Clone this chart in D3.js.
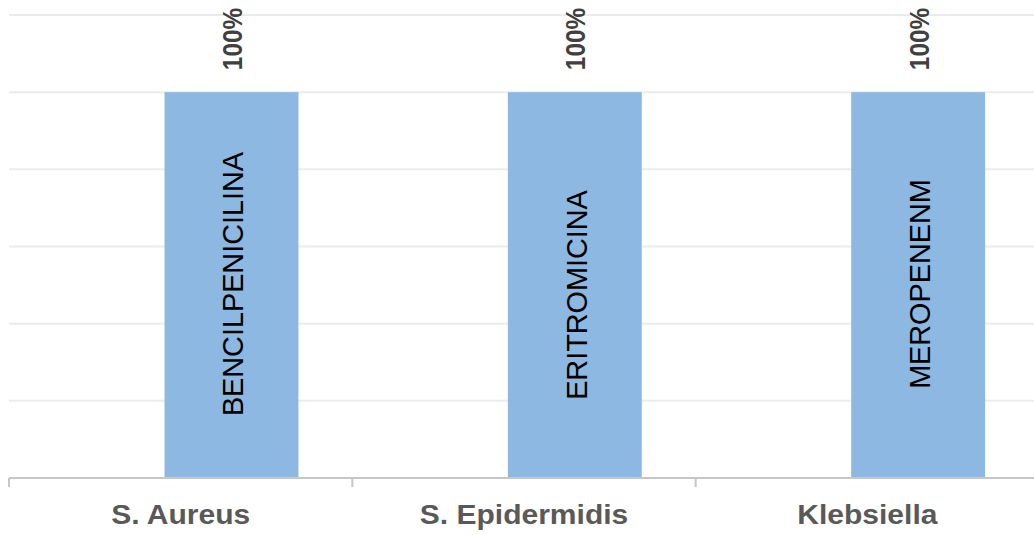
<!DOCTYPE html>
<html>
<head>
<meta charset="utf-8">
<script src="https://cdn.jsdelivr.net/npm/d3@7"></script>
<style>
  html, body { margin: 0; padding: 0; background: #ffffff; }
  svg { display: block; }
</style>
</head>
<body>
<svg id="chart" width="1034" height="535"></svg>
<script>
// Organisms on the x axis
const categories = ["S. Aureus", "S. Epidermidis", "Klebsiella"];
// Antibiotic shown inside each bar
const antibiotics = ["BENCILPENICILINA", "ERITROMICINA", "MEROPENENM"];
// Resistance share for each organism (fraction of 1)
const values = [1.0, 1.0, 1.0];
// Gridline values
const yTicks = [0, 0.2, 0.4, 0.6, 0.8, 1.0, 1.2];

const W = 1034, H = 535;
const svg = d3.select("#chart");

const x = d3.scaleBand().domain(categories).range([9, 1039]).padding(0);
const y = d3.scaleLinear().domain([0, 1.2]).range([478, 15]);

const fontFamily = "'Liberation Sans', Arial, sans-serif";

// Small nudges for the in-bar labels (pixels along the bar, positive = down)
const innerLabelNudge = { "BENCILPENICILINA": -1, "ERITROMICINA": 10, "MEROPENENM": -1 };

// Horizontal gridlines
svg.append("g")
  .selectAll("line")
  .data(yTicks.filter(d => d > 0))
  .join("line")
  .attr("x1", 9).attr("x2", W)
  .attr("y1", d => y(d)).attr("y2", d => y(d))
  .attr("stroke", "#ececec")
  .attr("stroke-width", 2);

// Bars
const rows = categories.map((c, i) => ({ cat: c, drug: antibiotics[i], v: values[i] }));
const barX = d => x(d.cat) + x.bandwidth() * 0.453;
const barW = x.bandwidth() * 0.39;

svg.append("g")
  .selectAll("rect")
  .data(rows)
  .join("rect")
  .attr("x", barX)
  .attr("width", barW)
  .attr("y", d => y(d.v))
  .attr("height", d => y(0) - y(d.v))
  .attr("fill", "#8cb8e1");

// Antibiotic name inside each bar
svg.append("g")
  .selectAll("text")
  .data(rows)
  .join("text")
  .attr("transform", d => `translate(${barX(d) + barW / 2 + 1},${(y(d.v) + y(0)) / 2 + innerLabelNudge[d.drug]}) rotate(-90) scale(1,1.04)`)
  .attr("text-anchor", "middle")
  .attr("dominant-baseline", "central")
  .attr("font-family", fontFamily)
  .attr("font-size", 28.8)
  .attr("fill", "#000000")
  .text(d => d.drug);

// Value labels above bars
svg.append("g")
  .selectAll("text")
  .data(rows)
  .join("text")
  .attr("transform", d => `translate(${barX(d) + barW / 2 + 1},${y(d.v) - 22}) rotate(-90) scale(1,1.15)`)
  .attr("text-anchor", "start")
  .attr("dominant-baseline", "central")
  .attr("font-family", fontFamily)
  .attr("font-weight", "bold")
  .attr("font-size", 24.4)
  .attr("fill", "#404040")
  .text(d => d3.format(".0%")(d.v));

// X axis
const xAxis = svg.append("g").attr("transform", `translate(0,${y(0)})`);
xAxis.append("line")
  .attr("x1", 9).attr("x2", W)
  .attr("y1", 0).attr("y2", 0)
  .attr("stroke", "#c6c6c6").attr("stroke-width", 2);
xAxis.selectAll("line.tick")
  .data(categories)
  .join("line")
  .attr("class", "tick")
  .attr("x1", d => x(d)).attr("x2", d => x(d))
  .attr("y1", 0).attr("y2", 9)
  .attr("stroke", "#c6c6c6").attr("stroke-width", 2);
xAxis.selectAll("text")
  .data(categories)
  .join("text")
  .attr("transform", d => `translate(${x(d) + x.bandwidth() / 2},45.5) scale(1.1,1)`)
  .attr("text-anchor", "middle")
  .attr("font-family", fontFamily)
  .attr("font-weight", "bold")
  .attr("font-size", 27.3)
  .attr("fill", "#595959")
  .text(d => d);
</script>
</body>
</html>
